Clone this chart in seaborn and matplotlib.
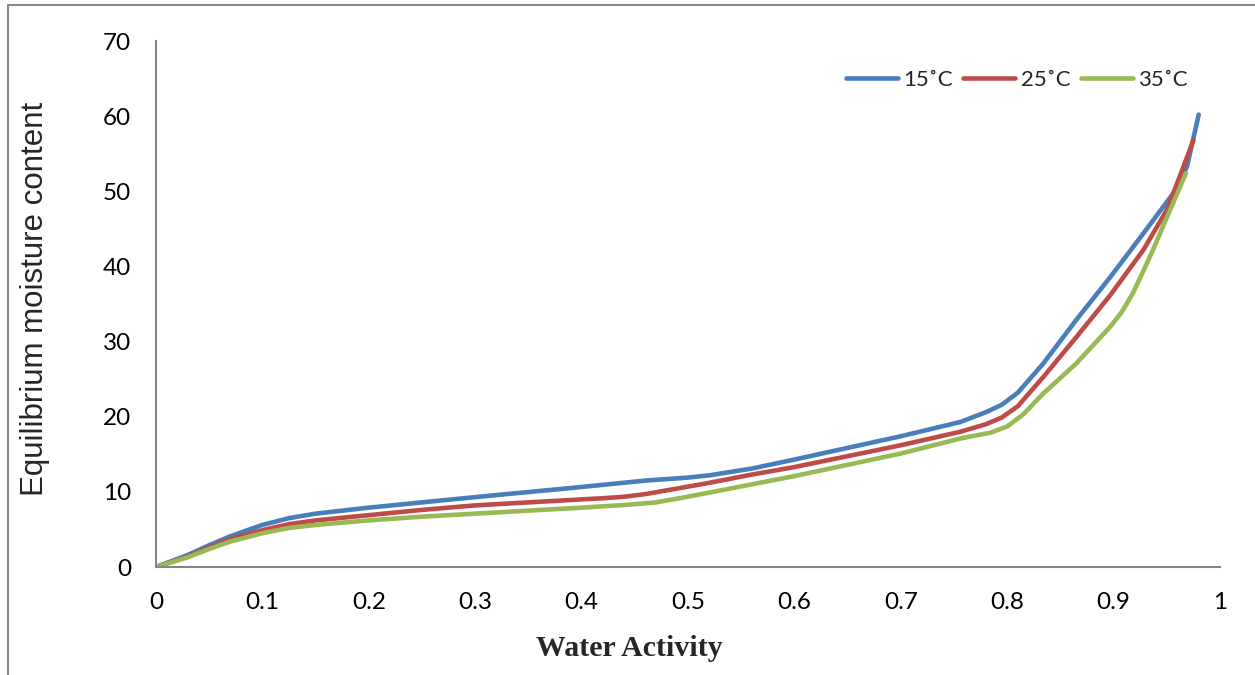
import pandas as pd
import numpy as np
import matplotlib.pyplot as plt
import seaborn as sns
from matplotlib.lines import Line2D

# 读取自图中的数据（水分活度 vs 平衡含水率）
aw_15 = [0, 0.03, 0.05, 0.07, 0.1, 0.125, 0.15, 0.2, 0.25, 0.3, 0.4, 0.46, 0.5, 0.52,
         0.56, 0.6, 0.7, 0.756, 0.78, 0.795, 0.81, 0.834, 0.865, 0.897, 0.928,
         0.956, 0.969, 0.98]
emc_15 = [0, 1.6, 2.9, 4.1, 5.6, 6.5, 7.1, 7.9, 8.6, 9.3, 10.65, 11.5, 11.9, 12.2,
          13.1, 14.3, 17.4, 19.3, 20.6, 21.6, 23.2, 27.1, 32.9, 38.6, 44.4,
          49.7, 53.3, 60.2]

aw_25 = [0, 0.03, 0.05, 0.07, 0.1, 0.125, 0.15, 0.2, 0.25, 0.3, 0.4, 0.42, 0.44,
         0.46, 0.48, 0.5, 0.52, 0.56, 0.6, 0.7, 0.756, 0.78, 0.795, 0.81, 0.834,
         0.865, 0.897, 0.928, 0.95, 0.962, 0.975]
emc_25 = [0, 1.4, 2.6, 3.7, 4.9, 5.7, 6.2, 6.9, 7.6, 8.2, 9.0, 9.15, 9.35,
          9.7, 10.2, 10.7, 11.2, 12.3, 13.3, 16.2, 18.0, 19.0, 19.9, 21.4, 25.3,
          30.6, 36.2, 42.2, 47.5, 51.9, 56.8]

aw_35 = [0, 0.03, 0.05, 0.07, 0.1, 0.125, 0.15, 0.2, 0.25, 0.3, 0.4, 0.44, 0.47,
         0.49, 0.52, 0.56, 0.6, 0.7, 0.756, 0.785, 0.8, 0.815, 0.834, 0.865,
         0.897, 0.908, 0.918, 0.927, 0.937, 0.953, 0.968]
emc_35 = [0, 1.3, 2.4, 3.4, 4.5, 5.2, 5.6, 6.2, 6.7, 7.1, 7.9, 8.25, 8.6,
          9.1, 9.9, 11.0, 12.1, 15.1, 17.1, 17.9, 18.7, 20.3, 23.1, 27.1,
          32.0, 34.0, 36.4, 39.1, 42.2, 47.5, 52.4]

temps = ['15˚C', '25˚C', '35˚C']
colors = ['#4A7EBB', '#BE4B48', '#98B954']
x_ticks = [0, 0.1, 0.2, 0.3, 0.4, 0.5, 0.6, 0.7, 0.8, 0.9, 1]
x_tick_labels = ['0', '0.1', '0.2', '0.3', '0.4', '0.5', '0.6', '0.7', '0.8', '0.9', '1']
y_ticks = [0, 10, 20, 30, 40, 50, 60, 70]

# 组装长表
df = pd.concat([
    pd.DataFrame({'aw': aw_15, 'emc': emc_15, 'temp': temps[0]}),
    pd.DataFrame({'aw': aw_25, 'emc': emc_25, 'temp': temps[1]}),
    pd.DataFrame({'aw': aw_35, 'emc': emc_35, 'temp': temps[2]}),
], ignore_index=True)

sns.set_style('white')
plt.rcParams['font.family'] = ['Lato', 'DejaVu Sans']

fig = plt.figure(figsize=(12.55, 6.75), dpi=100)
ax = fig.add_axes([156 / 1255, 1 - 567 / 675, 1064 / 1255, 526 / 675])

sns.lineplot(data=df, x='aw', y='emc', hue='temp', palette=colors,
             sort=False, estimator=None, linewidth=3.3, ax=ax)
for ln in ax.get_lines():
    ln.set_solid_capstyle('round')
    ln.set_solid_joinstyle('round')

ax.set_xlim(0, 1)
ax.set_ylim(0, 70)
ax.set_xticks(x_ticks)
ax.set_xticklabels(x_tick_labels)
ax.set_yticks(y_ticks)
ax.tick_params(axis='both', length=6, width=1.2, color='#868686',
               labelsize=17.5, labelcolor='black', direction='out')
ax.tick_params(axis='x', pad=12)
ax.tick_params(axis='y', pad=12)
for side in ['top', 'right']:
    ax.spines[side].set_visible(False)
for side in ['left', 'bottom']:
    ax.spines[side].set_color('#868686')
    ax.spines[side].set_linewidth(1.5)

ax.set_xlabel('Water Activity', fontsize=21.5, fontweight='bold',
              family='Liberation Serif')
ax.set_ylabel('Equilibrium moisture content', fontsize=22.5,
              family='Liberation Sans')
ax.xaxis.set_label_coords(629 / 1255, 1 - 648 / 675, transform=fig.transFigure)
ax.yaxis.set_label_coords(35 / 1255, 1 - 299 / 675, transform=fig.transFigure)
ax.xaxis.label.set_va('center')
ax.yaxis.label.set_va('center')

leg = ax.legend(loc='center right', bbox_to_anchor=(1188 / 1255, 1 - 80 / 675),
                bbox_transform=fig.transFigure, ncol=3, frameon=False,
                fontsize=16, handlelength=2.35, handletextpad=0.25,
                columnspacing=0.45, borderpad=0, borderaxespad=0)
for h in leg.get_lines():
    h.set_linewidth(3.3)
    h.set_solid_capstyle('round')

# 外框（上边与左边）
fig.add_artist(Line2D([8 / 1255, 1], [1 - 5 / 675, 1 - 5 / 675],
                      transform=fig.transFigure, color='#888888', lw=1.5))
fig.add_artist(Line2D([8 / 1255, 8 / 1255], [0, 1 - 5 / 675],
                      transform=fig.transFigure, color='#888888', lw=1.5))

fig.savefig('out.png', dpi=100)
